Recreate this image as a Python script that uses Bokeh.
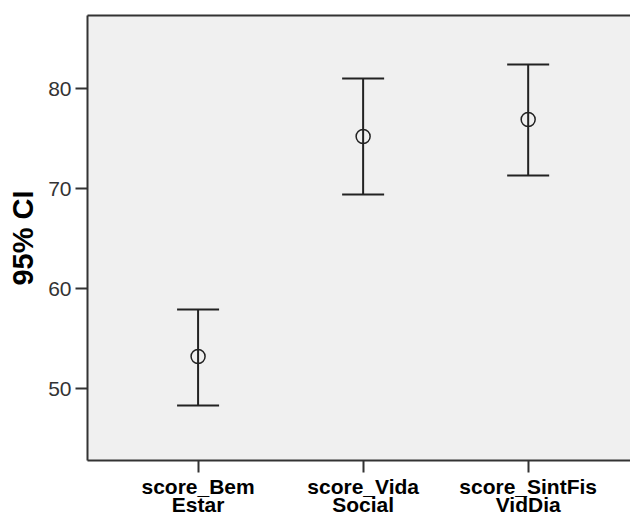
from bokeh.plotting import figure
from bokeh.models import ColumnDataSource, Whisker, TeeHead, FixedTicker, Range1d, LinearAxis
from bokeh.embed import file_html
from bokeh.resources import INLINE

categories = ["score_Bem\nEstar", "score_Vida\nSocial", "score_SintFis\nVidDia"]
positions = [0.5, 1.5, 2.5]
means = [53.2, 75.2, 76.9]
lower = [48.3, 69.4, 71.3]
upper = [57.9, 81.0, 82.4]
y_ticks = [50, 60, 70, 80]

src = ColumnDataSource(dict(x=positions, m=means, lo=lower, hi=upper))

p = figure(width=630, height=518, output_backend="svg", toolbar_location=None,
           x_range=Range1d(-0.17, 3.12), y_range=Range1d(42.8, 87.3),
           min_border_left=87, min_border_top=15, min_border_bottom=58, min_border_right=0)
p.border_fill_color = "white"
p.background_fill_color = "#F0F0F0"
p.outline_line_color = None
p.xgrid.visible = False
p.ygrid.visible = False

bx = p.below[0]
ly = p.left[0]
for ax in (bx, ly):
    ax.axis_line_color = "#333333"
    ax.axis_line_width = 2
    ax.major_tick_line_color = "#333333"
    ax.major_tick_line_width = 2
    ax.major_tick_out = 12
    ax.major_tick_in = 0
    ax.minor_tick_out = 0
    ax.minor_tick_in = 0

ly.ticker = FixedTicker(ticks=y_ticks)
ly.major_label_text_font = "Liberation Sans"
ly.major_label_text_font_size = "21px"
ly.major_label_text_color = "#333333"
ly.major_label_standoff = 4
ly.axis_label = "95% CI"
ly.axis_label_text_font = "Liberation Sans"
ly.axis_label_text_font_size = "29px"
ly.axis_label_text_font_style = "bold"
ly.axis_label_text_color = "black"
ly.axis_label_standoff = 6

bx.ticker = FixedTicker(ticks=positions)
bx.major_label_overrides = {pos: lab for pos, lab in zip(positions, categories)}
bx.major_label_text_font = "Liberation Sans"
bx.major_label_text_font_size = "21px"
bx.major_label_text_font_style = "bold"
bx.major_label_text_color = "black"
bx.major_label_text_line_height = 0.8
bx.major_label_standoff = 2

# top border line via an extra axis without ticks or labels
top = LinearAxis(ticker=FixedTicker(ticks=[]), major_label_text_font_size="0px",
                 major_tick_out=0, major_tick_in=0, minor_tick_out=0, minor_tick_in=0,
                 axis_line_color="#333333", axis_line_width=2, major_label_standoff=0)
p.add_layout(top, "above")

w = Whisker(source=src, base="x", upper="hi", lower="lo", dimension="height",
            line_color="#222222", line_width=2,
            upper_head=TeeHead(size=42, line_color="#222222", line_width=2),
            lower_head=TeeHead(size=42, line_color="#222222", line_width=2))
p.add_layout(w)

p.scatter("x", "m", source=src, marker="circle", size=14, fill_color=None,
          line_color="#222222", line_width=1.5)

open("out.html", "w").write(file_html(p, INLINE))
